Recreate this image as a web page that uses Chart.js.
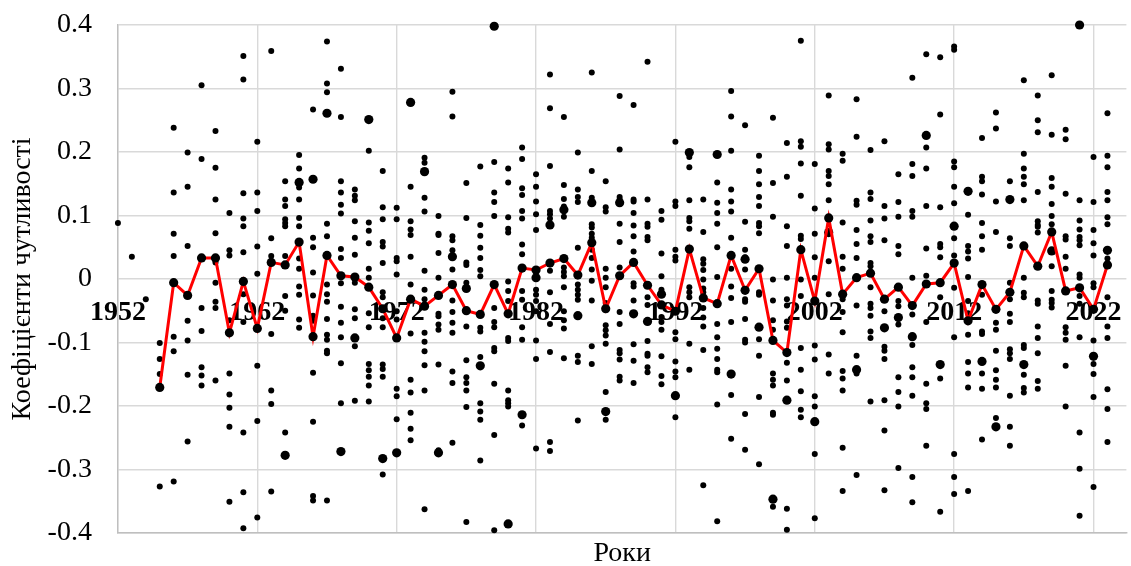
<!DOCTYPE html>
<html>
<head>
<meta charset="utf-8">
<script src="https://cdn.jsdelivr.net/npm/chart.js@4.4.1/dist/chart.umd.min.js"></script>
<style>
  body { margin: 0; background: #fff; overflow: hidden; }
  #wrap { width: 1131px; height: 566px; }
</style>
</head>
<body>
<div id="wrap"><canvas id="myChart"></canvas></div>
<script>
const years = [1952, 1953, 1954, 1955, 1956, 1957, 1958, 1959, 1960, 1961,
  1962, 1963, 1964, 1965, 1966, 1967, 1968, 1969, 1970, 1971,
  1972, 1973, 1974, 1975, 1976, 1977, 1978, 1979, 1980, 1981,
  1982, 1983, 1984, 1985, 1986, 1987, 1988, 1989, 1990, 1991,
  1992, 1993, 1994, 1995, 1996, 1997, 1998, 1999, 2000, 2001,
  2002, 2003, 2004, 2005, 2006, 2007, 2008, 2009, 2010, 2011,
  2012, 2013, 2014, 2015, 2016, 2017, 2018, 2019, 2020, 2021,
  2022, 2023];

// small dots, one list per year
const coefSmall = [
  [0.088],
  [0.035],
  [-0.032],
  [-0.101, -0.126, -0.15, -0.327],
  [0.238, 0.136, 0.071, 0.036, -0.091, -0.114, -0.319],
  [0.199, 0.145, 0.052, -0.066, -0.097, -0.151, -0.256],
  [0.305, 0.189, -0.046, -0.082, -0.139, -0.152, -0.168],
  [0.233, 0.175, 0.125, 0.072, 0.026, -0.006, -0.036, -0.046, -0.16],
  [0.104, 0.045, 0.037, -0.065, -0.149, -0.182, -0.203, -0.233, -0.351],
  [0.351, 0.314, 0.135, 0.095, 0.083, 0.042, -0.024, -0.068, -0.242, -0.336, -0.393],
  [0.216, 0.136, 0.107, 0.051, 0.008, -0.137, -0.224, -0.376],
  [0.359, 0.064, 0.036, -0.087, -0.176, -0.197, -0.335],
  [0.154, 0.125, 0.115, 0.094, 0.088, 0.083, 0.036, -0.027, -0.05, -0.242],
  [0.195, 0.174, 0.144, 0.125, 0.096, 0.083, 0.032, 0.016, -0.012, -0.025, -0.064, -0.077],
  [0.267, 0.065, 0.05, 0.01, -0.026, -0.058, -0.066, -0.148, -0.225, -0.342, -0.349],
  [0.374, 0.308, 0.294, 0.087, 0.067, -0.009, -0.024, -0.036, -0.063, -0.088, -0.096, -0.113, -0.117, -0.349],
  [0.331, 0.255, 0.154, 0.136, 0.117, 0.103, 0.047, 0.033, -0.007, -0.044, -0.069, -0.092, -0.133, -0.196],
  [0.141, 0.131, 0.124, 0.091, 0.065, 0.038, -0.006, -0.048, -0.062, -0.106, -0.192],
  [0.202, 0.089, 0.076, 0.056, 0.016, 0.002, -0.054, -0.076, -0.134, -0.144, -0.154, -0.168, -0.193],
  [0.17, 0.113, 0.094, 0.058, 0.051, 0.025, -0.021, -0.029, -0.062, -0.076, -0.135, -0.142, -0.154, -0.308],
  [0.112, 0.094, 0.033, 0.028, 0.007, -0.051, -0.064, -0.173, -0.185, -0.221],
  [0.145, 0.091, 0.078, 0.069, 0.035, -0.009, -0.086, -0.159, -0.179, -0.211, -0.236, -0.254],
  [0.191, 0.183, 0.128, 0.106, 0.013, -0.017, -0.032, -0.085, -0.099, -0.114, -0.136, -0.176, -0.363],
  [0.099, 0.071, 0.069, 0.041, 0.002, -0.055, -0.059, -0.072, -0.08, -0.135, -0.27],
  [0.295, 0.256, 0.067, 0.061, 0.045, 0.015, -0.034, -0.052, -0.069, -0.085, -0.146, -0.164, -0.258],
  [0.151, 0.096, 0.026, 0.022, -0.006, -0.075, -0.128, -0.155, -0.164, -0.176, -0.202, -0.383],
  [0.177, 0.085, 0.068, 0.049, 0.033, 0.014, 0.004, -0.077, -0.083, -0.123, -0.196, -0.209, -0.222, -0.286],
  [0.184, 0.136, 0.121, 0.099, -0.046, -0.068, -0.076, -0.109, -0.114, -0.165, -0.246, -0.396],
  [0.174, 0.152, 0.097, 0.079, 0.073, -0.004, -0.019, -0.035, -0.093, -0.098, -0.176, -0.191, -0.196, -0.201],
  [0.207, 0.189, 0.143, 0.132, 0.107, 0.095, 0.054, 0.039, -0.019, -0.033, -0.076, -0.096, -0.231],
  [0.165, 0.145, 0.122, 0.102, 0.077, -0.017, -0.025, -0.035, -0.051, -0.097, -0.126, -0.267],
  [0.322, 0.269, 0.178, 0.107, 0.102, 0.095, 0.013, -0.021, -0.071, -0.115, -0.257, -0.271],
  [0.255, 0.148, 0.126, 0.114, 0.098, 0.018, 0.011, 0.004, -0.013, -0.051, -0.065, -0.078, -0.125],
  [0.199, 0.141, 0.129, 0.121, 0.049, -0.009, -0.017, -0.025, -0.033, -0.121, -0.131, -0.223],
  [0.325, 0.17, 0.128, 0.086, 0.081, 0.071, 0.065, 0.046, 0.033, 0.015, -0.003, -0.034, -0.106, -0.134],
  [0.154, 0.113, 0.106, 0.016, 0.002, -0.013, -0.038, -0.073, -0.081, -0.089, -0.102, -0.178, -0.222],
  [0.288, 0.204, 0.129, 0.125, 0.087, 0.058, 0.018, -0.052, -0.071, -0.112, -0.117, -0.127, -0.154, -0.16],
  [0.274, 0.125, 0.122, 0.104, 0.084, 0.067, 0.043, -0.007, -0.012, -0.034, -0.103, -0.129, -0.164],
  [0.342, 0.125, 0.087, 0.082, 0.066, 0.061, -0.029, -0.041, -0.098, -0.118, -0.121, -0.139, -0.147],
  [0.107, 0.093, 0.04, 0.004, -0.017, -0.06, -0.068, -0.08, -0.122, -0.153, -0.166],
  [0.216, 0.122, 0.115, 0.046, 0.035, 0.029, -0.084, -0.095, -0.13, -0.146, -0.155, -0.218],
  [0.192, 0.176, 0.124, 0.096, 0.091, 0.079, -0.013, -0.021, -0.029, -0.102, -0.143],
  [0.125, 0.074, 0.031, 0.024, 0.014, -0.001, -0.015, -0.021, -0.046, -0.061, -0.075, -0.112, -0.325],
  [0.152, 0.12, 0.104, 0.087, 0.05, 0.003, -0.071, -0.092, -0.11, -0.126, -0.143, -0.147, -0.198, -0.382],
  [0.296, 0.256, 0.202, 0.141, 0.122, 0.106, 0.065, 0.016, -0.012, -0.03, -0.068, -0.183, -0.252],
  [0.242, 0.09, 0.046, 0.034, 0.015, -0.032, -0.036, -0.063, -0.096, -0.1, -0.213, -0.269],
  [0.194, 0.17, 0.149, 0.129, 0.115, 0.088, 0.083, 0.072, -0.021, -0.025, -0.095, -0.121, -0.186, -0.292],
  [0.254, 0.151, 0.098, -0.001, -0.034, -0.065, -0.08, -0.149, -0.159, -0.168, -0.211, -0.214, -0.359],
  [0.214, 0.161, 0.083, 0.052, 0.002, -0.032, -0.042, -0.067, -0.077, -0.132, -0.16, -0.362, -0.395],
  [0.375, 0.217, 0.208, 0.182, 0.131, 0.068, 0.063, -0.001, -0.027, -0.109, -0.143, -0.177, -0.206, -0.218],
  [0.181, 0.111, 0.071, 0.034, 0.002, -0.105, -0.127, -0.185, -0.201, -0.276, -0.377],
  [0.289, 0.212, 0.204, 0.17, 0.162, 0.149, 0.124, 0.028, -0.024, -0.119, -0.149],
  [0.197, 0.186, 0.089, 0.035, 0.016, -0.032, -0.052, -0.084, -0.145, -0.157, -0.176, -0.266, -0.334],
  [0.283, 0.224, 0.123, 0.117, 0.077, 0.055, 0.033, -0.042, -0.121, -0.149, -0.309],
  [0.203, 0.136, 0.126, 0.092, 0.067, 0.058, 0.025, 0.02, -0.013, -0.039, -0.046, -0.058, -0.083, -0.093, -0.193],
  [0.217, 0.115, 0.095, 0.061, -0.051, -0.107, -0.113, -0.126, -0.191, -0.239, -0.333],
  [0.165, 0.121, 0.098, 0.052, 0.039, -0.035, -0.043, -0.072, -0.155, -0.178, -0.201, -0.298],
  [0.317, 0.181, 0.162, 0.107, 0.098, 0.002, -0.056, -0.104, -0.139, -0.155, -0.184, -0.312, -0.352],
  [0.354, 0.207, 0.174, 0.115, 0.048, 0.005, -0.068, -0.165, -0.196, -0.205, -0.263],
  [0.349, 0.259, 0.113, 0.055, 0.05, 0.034, -0.029, -0.157, -0.367],
  [0.366, 0.361, 0.185, 0.176, 0.145, 0.119, 0.064, 0.037, -0.014, -0.092, -0.276, -0.312, -0.339],
  [0.101, 0.052, 0.043, 0.032, 0.003, -0.035, -0.054, -0.088, -0.131, -0.149, -0.171, -0.334],
  [0.222, 0.161, 0.154, 0.133, 0.088, 0.067, 0.046, -0.025, -0.083, -0.087, -0.149, -0.173, -0.253],
  [0.262, 0.237, 0.122, 0.074, -0.069, -0.08, -0.113, -0.144, -0.159, -0.171, -0.219],
  [0.154, 0.064, 0.052, -0.006, -0.032, -0.055, -0.068, -0.111, -0.117, -0.126, -0.184, -0.233, -0.263],
  [0.313, 0.197, 0.174, 0.161, 0.149, 0.124, 0.002, -0.022, -0.029, -0.104, -0.109, -0.151, -0.172, -0.179],
  [0.289, 0.25, 0.231, 0.137, 0.091, 0.085, 0.082, 0.073, -0.034, -0.039, -0.075, -0.093, -0.117, -0.161, -0.173],
  [0.321, 0.227, 0.159, 0.145, 0.118, 0.099, 0.086, 0.02, -0.019, -0.033, -0.038, -0.045],
  [0.235, 0.22, 0.134, 0.067, 0.062, 0.035, 0.016, -0.076, -0.085, -0.096, -0.137, -0.201],
  [0.124, 0.092, 0.078, 0.066, 0.061, 0.053, 0.007, 0.002, -0.027, -0.039, -0.092, -0.242, -0.299, -0.373],
  [0.192, 0.121, 0.077, 0.056, 0.037, -0.007, -0.013, -0.097, -0.134, -0.15, -0.186, -0.328],
  [0.261, 0.194, 0.176, 0.137, 0.124, 0.097, 0.086, 0.032, -0.029, -0.075, -0.093, -0.174, -0.205, -0.257]
];

// large dots off the red line
const coefLarge = [
  [], [], [], [], [], [], [], [], [], [],
  [], [], [-0.278], [0.152], [0.157], [0.261], [-0.272], [-0.093], [0.251], [-0.283],
  [-0.274], [0.278], [0.169], [-0.274], [0.035], [-0.015], [-0.137], [0.398], [-0.386], [-0.214],
  [0.002], [0.085], [0.109], [-0.058], [0.12], [-0.209], [0.12], [-0.055], [-0.067], [-0.024],
  [-0.184], [0.199], [], [0.196], [-0.15], [0.031], [-0.076], [-0.347], [-0.191], [],
  [-0.225], [0.073], [], [-0.143], [], [-0.077], [-0.061], [-0.091], [0.226], [-0.135],
  [0.083], [0.138], [-0.13], [-0.233], [0.125], [-0.135], [], [0.044], [], [0.4],
  [-0.122], [0.045]
];

// red line, 1955-2023
const coefMean = [null, null, null, -0.171, -0.006, -0.026, 0.033, 0.033, -0.085, -0.004,
  -0.078, 0.026, 0.022, 0.058, -0.091, 0.037, 0.005, 0.003, -0.013, -0.047,
  -0.093, -0.032, -0.043, -0.026, -0.009, -0.05, -0.056, -0.009, -0.055, 0.017,
  0.014, 0.025, 0.032, 0.006, 0.057, -0.047, 0.005, 0.026, -0.01, -0.041,
  -0.051, 0.047, -0.03, -0.039, 0.037, -0.018, 0.016, -0.097, -0.116, 0.046,
  -0.035, 0.096, -0.024, 0.002, 0.009, -0.032, -0.013, -0.042, -0.008, -0.006,
  0.025, -0.066, -0.009, -0.048, -0.021, 0.052, 0.02, 0.074, -0.019, -0.014,
  -0.048, 0.022];

const xTicks = [1952, 1962, 1972, 1982, 1992, 2002, 2012, 2022];
const xTickLabels = ['1952', '1962', '1972', '1982', '1992', '2002', '2012', '2022'];
const yTicks = [-0.4, -0.3, -0.2, -0.1, 0, 0.1, 0.2, 0.3, 0.4];
const yTickLabels = ['-0.4', '-0.3', '-0.2', '-0.1', '0', '0.1', '0.2', '0.3', '0.4'];

const X_MIN = 1952, X_MAX = 2024.36;
const serif = "'Liberation Serif', 'Times New Roman', serif";
const gridColor = '#d9d9d9';

const toPoints = lists => years.flatMap((yr, i) => lists[i].map(v => ({ x: yr, y: v })));
const meanPoints = years.map((yr, i) => ({ x: yr, y: coefMean[i] })).filter(p => p.y !== null);

const setXTicks = scale => { scale.ticks = xTicks.map(v => ({ value: v })); };

Chart.defaults.font.family = serif;
Chart.defaults.color = '#000';

const ctx = document.getElementById('myChart');
const myChart = new Chart(ctx, {
  type: 'scatter',
  data: {
    datasets: [
      {
        data: meanPoints,
        showLine: true,
        borderColor: '#ff0000',
        borderWidth: 3,
        pointRadius: 4.6,
        pointBorderWidth: 0,
        pointBackgroundColor: '#000',
        xAxisID: 'x',
        clip: false,
        order: 0
      },
      {
        data: toPoints(coefLarge),
        pointRadius: 4.6,
        pointBorderWidth: 0,
        pointBackgroundColor: '#000',
        xAxisID: 'x',
        clip: false,
        order: 1
      },
      {
        data: toPoints(coefSmall),
        pointRadius: 3,
        pointBorderWidth: 0,
        pointBackgroundColor: '#000',
        xAxisID: 'x',
        clip: false,
        order: 2
      }
    ]
  },
  options: {
    responsive: true,
    maintainAspectRatio: false,
    animation: false,
    layout: { padding: { left: 0, right: 0, top: 25, bottom: 0 } },
    scales: {
      x: {
        type: 'linear',
        position: 'bottom',
        min: X_MIN,
        max: X_MAX,
        afterBuildTicks: setXTicks,
        grid: { color: gridColor, lineWidth: 1.4, drawTicks: false },
        border: { color: '#bfbfbf', width: 1.4 },
        ticks: { display: false },
        title: {
          display: true,
          text: 'Роки',
          color: '#000',
          font: { family: serif, size: 28, lineHeight: 0.9 },
          padding: { top: 8, bottom: 0 }
        }
      },
      x2: {
        type: 'linear',
        axis: 'x',
        position: { y: 0 },
        min: X_MIN,
        max: X_MAX,
        afterBuildTicks: setXTicks,
        // invisible tick marks give the gap under the zero line
        grid: { display: false, drawTicks: true, tickLength: 17 },
        border: { display: false },
        ticks: {
          autoSkip: false,
          maxRotation: 0,
          padding: 0,
          color: '#000',
          font: { family: serif, size: 28, weight: 'bold' },
          callback: (value, index) => xTickLabels[index]
        }
      },
      y: {
        type: 'linear',
        min: -0.4,
        max: 0.4,
        afterBuildTicks: scale => { scale.ticks = yTicks.map(v => ({ value: v })); },
        grid: { color: gridColor, lineWidth: 1.4, drawTicks: true, tickLength: 26, tickColor: 'rgba(0,0,0,0)' },
        border: { color: '#bfbfbf', width: 1.4 },
        ticks: {
          padding: 0,
          color: '#000',
          font: { family: serif, size: 28 },
          callback: (value, index) => yTickLabels[index]
        },
        title: {
          display: true,
          text: 'Коефіцієнти чутливості',
          color: '#000',
          font: { family: serif, size: 28 },
          padding: { top: 6, bottom: 8 }
        }
      }
    },
    plugins: {
      legend: { display: false },
      tooltip: { enabled: false }
    }
  }
});
</script>
</body>
</html>
